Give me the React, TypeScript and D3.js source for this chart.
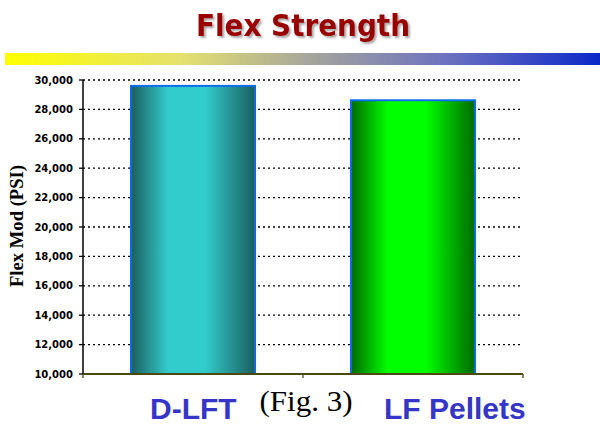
import React from "react";
import * as d3 from "d3";

const categories = ["D-LFT", "LF Pellets"];
const values = [29600, 28620];
const yTicks = [10000, 12000, 14000, 16000, 18000, 20000, 22000, 24000, 26000, 28000, 30000];
const title = "Flex Strength";
const yTitle = "Flex Mod (PSI)";
const caption = "(Fig. 3)";

const gradients = [
  { id: "gTeal", dark: "#1b5e5e", light: "#33cccc" },
  { id: "gGreen", dark: "#006a00", light: "#00ff00" },
];

export default function App() {
  const left = 83, right = 523, top = 80, bottom = 374;
  const y = d3.scaleLinear().domain([10000, 30000]).range([bottom, top]);
  const x = d3.scaleBand<string>().domain(categories).range([left, right]).paddingInner(0.436).paddingOuter(0.218);
  const fmt = d3.format(",");
  const labelX = [150, 384];

  return (
    <svg width={600} height={426} style={{ position: "absolute", left: 0, top: 0, background: "#fff" }}>
      <defs>
        <linearGradient id="rule" x1="0" x2="1" y1="0" y2="0">
          <stop offset="0" stopColor="#ffff00" />
          <stop offset="0.3" stopColor="#e4e070" />
          <stop offset="0.5" stopColor="#a8a89a" />
          <stop offset="0.75" stopColor="#6a70c0" />
          <stop offset="1" stopColor="#0a28c8" />
        </linearGradient>
        {gradients.map((g) => (
          <linearGradient key={g.id} id={g.id} x1="0" x2="1" y1="0" y2="0">
            <stop offset="0" stopColor={g.dark} />
            <stop offset="0.3" stopColor={g.light} />
            <stop offset="0.6" stopColor={g.light} />
            <stop offset="1" stopColor={g.dark} />
          </linearGradient>
        ))}
        <filter id="shadow" x="-10%" y="-20%" width="130%" height="150%">
          <feGaussianBlur in="SourceAlpha" stdDeviation="1" />
          <feOffset dx="2" dy="2" result="b" />
          <feComponentTransfer><feFuncA type="linear" slope="0.35" /></feComponentTransfer>
          <feMerge><feMergeNode /><feMergeNode in="SourceGraphic" /></feMerge>
        </filter>
      </defs>

      <text x={303} y={36} textAnchor="middle" fontFamily="DejaVu Sans" fontWeight="bold" fontSize={30}
        fill="#990000" textLength={214} lengthAdjust="spacingAndGlyphs" filter="url(#shadow)">{title}</text>
      <rect x={5} y={53} width={595} height={12} fill="url(#rule)" />

      {yTicks.slice(1).map((t) => (
        <line key={t} x1={left} x2={right} y1={y(t)} y2={y(t)} stroke="#000" strokeWidth={1.3} strokeDasharray="2,3" />
      ))}

      {categories.map((c, i) => (
        <rect key={c} x={x(c)} y={y(values[i])} width={x.bandwidth()} height={bottom - y(values[i])}
          fill={`url(#${gradients[i].id})`} stroke="#0a6cf0" strokeWidth={2} />
      ))}

      <line x1={left} x2={left} y1={top} y2={bottom} stroke="#000" strokeWidth={1.5} />
      {yTicks.map((t) => (
        <g key={t}>
          <line x1={left - 4} x2={left} y1={y(t)} y2={y(t)} stroke="#000" strokeWidth={1.3} />
          <text x={73} y={y(t) + 3.5} textAnchor="end" fontFamily="DejaVu Sans" fontWeight="bold" fontSize={10} fill="#000">{fmt(t)}</text>
        </g>
      ))}

      <line x1={left} x2={right} y1={bottom} y2={bottom} stroke="#4a4a10" strokeWidth={2} />
      {[left, (x(categories[1]) as number) - x.step() * 0.218, right].map((v, i) => (
        <line key={i} x1={v} x2={v} y1={bottom} y2={bottom + 4} stroke="#4a4a10" strokeWidth={1.3} />
      ))}

      <text transform="translate(23,226) rotate(-90)" textAnchor="middle" fontFamily="Liberation Serif" fontWeight="bold"
        fontSize={18} fill="#000" textLength={122} lengthAdjust="spacingAndGlyphs">{yTitle}</text>

      {categories.map((c, i) => (
        <text key={c} x={labelX[i]} y={419} fontFamily="Liberation Sans" fontWeight="bold" fontSize={30} fill="#3535c8">{c}</text>
      ))}
      <text x={306} y={411} textAnchor="middle" fontFamily="Liberation Serif" fontSize={29} fill="#000"
        textLength={93} lengthAdjust="spacingAndGlyphs">{caption}</text>
    </svg>
  );
}
